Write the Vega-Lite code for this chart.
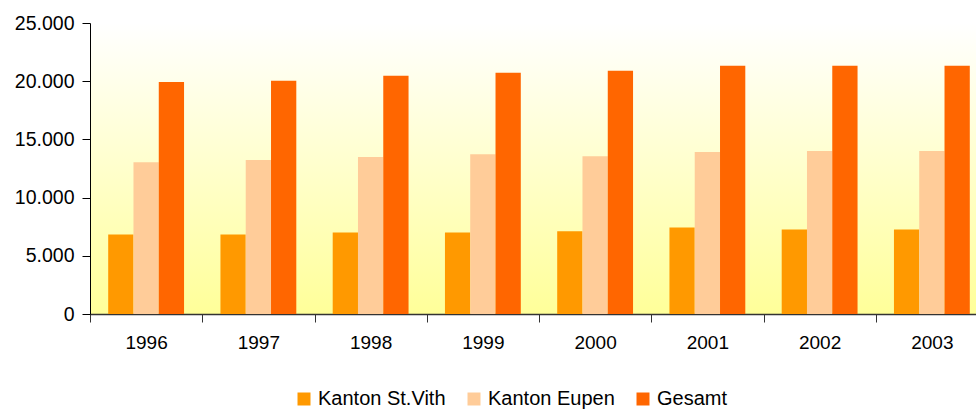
{
  "$schema": "https://vega.github.io/schema/vega-lite/v6.json",
  "width": 886,
  "height": 291,
  "autosize": {"type": "none"},
  "padding": {"left": 90, "top": 23, "right": 0, "bottom": 96},
  "background": "#ffffff",
  "config": {
    "view": {
      "stroke": null,
      "fill": {"gradient": "linear", "x1": 0, "y1": 0, "x2": 0, "y2": 1,
        "stops": [{"offset": 0, "color": "#ffffff"}, {"offset": 1, "color": "#ffff99"}]}
    },
    "font": "Liberation Sans"
  },
  "data": {
    "values": [
      {"Jahr": "1996", "Kanton": "Kanton St.Vith", "Wert": 6840},
      {"Jahr": "1996", "Kanton": "Kanton Eupen", "Wert": 13040},
      {"Jahr": "1996", "Kanton": "Gesamt", "Wert": 19940},
      {"Jahr": "1997", "Kanton": "Kanton St.Vith", "Wert": 6840},
      {"Jahr": "1997", "Kanton": "Kanton Eupen", "Wert": 13220},
      {"Jahr": "1997", "Kanton": "Gesamt", "Wert": 20030},
      {"Jahr": "1998", "Kanton": "Kanton St.Vith", "Wert": 7000},
      {"Jahr": "1998", "Kanton": "Kanton Eupen", "Wert": 13480},
      {"Jahr": "1998", "Kanton": "Gesamt", "Wert": 20460},
      {"Jahr": "1999", "Kanton": "Kanton St.Vith", "Wert": 7000},
      {"Jahr": "1999", "Kanton": "Kanton Eupen", "Wert": 13730},
      {"Jahr": "1999", "Kanton": "Gesamt", "Wert": 20720},
      {"Jahr": "2000", "Kanton": "Kanton St.Vith", "Wert": 7100},
      {"Jahr": "2000", "Kanton": "Kanton Eupen", "Wert": 13560},
      {"Jahr": "2000", "Kanton": "Gesamt", "Wert": 20890},
      {"Jahr": "2001", "Kanton": "Kanton St.Vith", "Wert": 7440},
      {"Jahr": "2001", "Kanton": "Kanton Eupen", "Wert": 13910},
      {"Jahr": "2001", "Kanton": "Gesamt", "Wert": 21320},
      {"Jahr": "2002", "Kanton": "Kanton St.Vith", "Wert": 7270},
      {"Jahr": "2002", "Kanton": "Kanton Eupen", "Wert": 14000},
      {"Jahr": "2002", "Kanton": "Gesamt", "Wert": 21320},
      {"Jahr": "2003", "Kanton": "Kanton St.Vith", "Wert": 7270},
      {"Jahr": "2003", "Kanton": "Kanton Eupen", "Wert": 14000},
      {"Jahr": "2003", "Kanton": "Gesamt", "Wert": 21320}
    ]
  },
  "mark": {"type": "bar"},
  "encoding": {
    "x": {
      "field": "Jahr", "type": "nominal",
      "scale": {"range": [0, 898], "paddingInner": 0, "paddingOuter": 0},
      "axis": {
        "title": null, "labelAngle": 0, "tickBand": "extent",
        "domainColor": "#333333", "domainWidth": 1.5, "tickColor": "#333333", "tickSize": 8,
        "labelFont": "Liberation Sans", "labelFontSize": 19, "labelColor": "#000000", "labelPadding": 11
      }
    },
    "xOffset": {
      "field": "Kanton", "type": "nominal",
      "sort": ["Kanton St.Vith", "Kanton Eupen", "Gesamt"],
      "scale": {"paddingInner": 0, "paddingOuter": 0.72}
    },
    "y": {
      "field": "Wert", "type": "quantitative",
      "scale": {"domain": [0, 25000], "nice": false},
      "axis": {
        "title": null, "grid": false, "values": [0, 5000, 10000, 15000, 20000, 25000],
        "labelExpr": "replace(format(datum.value, ','), ',', '.')",
        "domainColor": "#000000", "tickColor": "#000000", "tickSize": 8,
        "labelFont": "Liberation Sans", "labelFontSize": 19.5, "labelColor": "#000000", "labelPadding": 8
      }
    },
    "color": {
      "field": "Kanton", "type": "nominal",
      "scale": {"domain": ["Kanton St.Vith", "Kanton Eupen", "Gesamt"], "range": ["#ff9900", "#ffcc99", "#ff6600"]},
      "legend": {
        "title": null, "orient": "none", "direction": "horizontal",
        "legendX": 204, "legendY": 366, "padding": 0,
        "symbolType": "square", "symbolSize": 169, "symbolStrokeWidth": 0, "symbolOpacity": 1,
        "labelFont": "Liberation Sans", "labelFontSize": 20, "labelColor": "#000000",
        "labelOffset": 4, "columnPadding": 18
      }
    }
  }
}
